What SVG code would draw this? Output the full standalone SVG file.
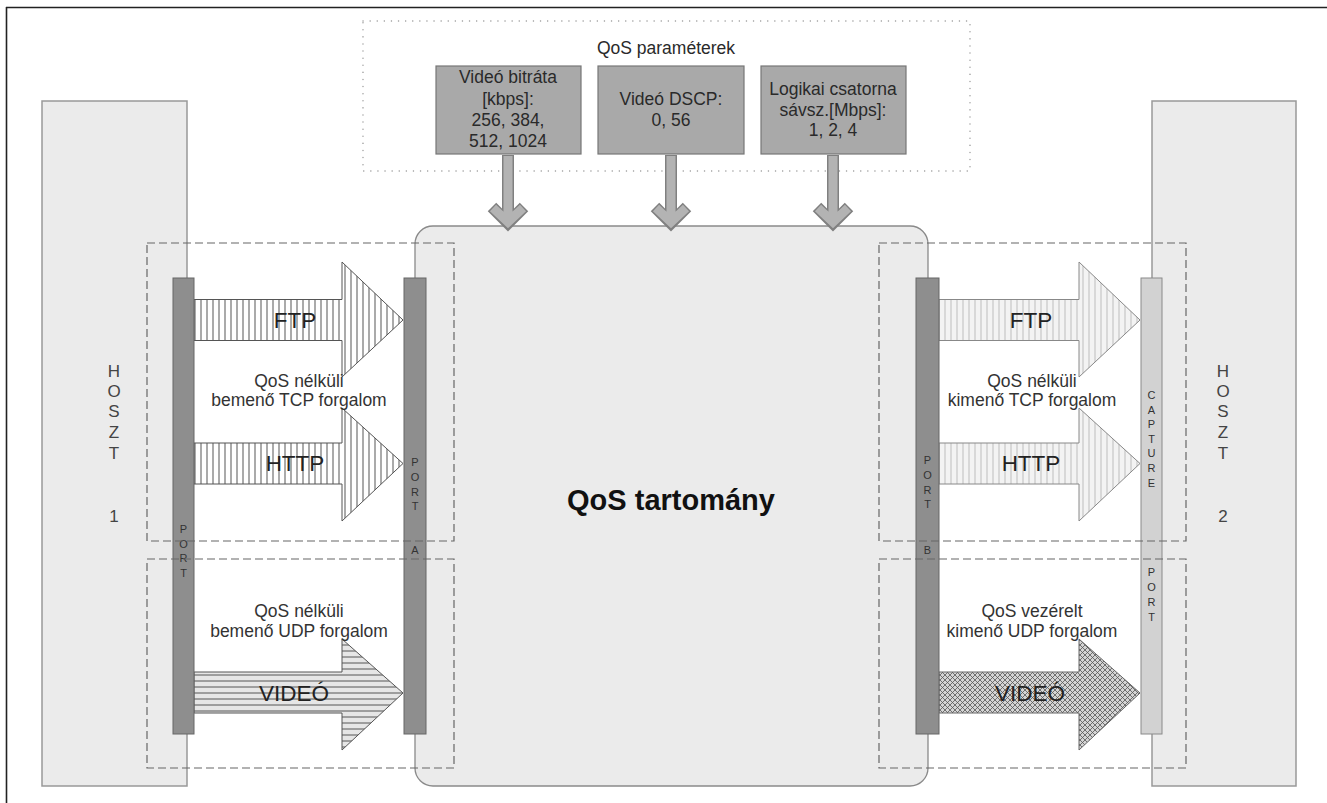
<svg xmlns="http://www.w3.org/2000/svg" width="1327" height="803" viewBox="0 0 1327 803">
<style>
text{font-family:"Liberation Sans",Arial,sans-serif;fill:#333}
.host{fill:#ebebeb;stroke:#999;stroke-width:1.5}
.dom{fill:#ebebeb;stroke:#8a8a8a;stroke-width:1.3}
.dash{fill:none;stroke:#666;stroke-width:1.2;stroke-dasharray:8 4}
.dot{fill:none;stroke:#999;stroke-width:1.4;stroke-dasharray:0.1 7;stroke-linecap:round}
.pbox{fill:#a9a9a9;stroke:#777;stroke-width:1.2}
.port{fill:#8e8e8e;stroke:#666;stroke-width:1}
.cap{fill:#d2d2d2;stroke:#8a8a8a;stroke-width:1}
.bt{font-size:17.5px;text-anchor:middle;fill:#2a2a2a}
.lbl{font-size:17.5px;text-anchor:middle;fill:#333}
.big{font-size:22.5px;text-anchor:middle;fill:#222}
.pl{font-size:11px;text-anchor:middle;fill:#333}
.hl{font-size:17px;text-anchor:middle;fill:#444}
.arrL{stroke:#555;stroke-width:1}
.arrR{stroke:#888;stroke-width:1}
.cout{fill:none;stroke:#808080;stroke-width:12;stroke-linejoin:miter}
.cin{fill:none;stroke:#b3b3b3;stroke-width:9;stroke-linejoin:miter}
</style>
<defs>
<pattern id="vs" width="6" height="10" patternUnits="userSpaceOnUse"><rect width="6" height="10" fill="#fff"/><line x1="3" y1="0" x2="3" y2="10" stroke="#555" stroke-width="1"/></pattern>
<pattern id="hs" width="10" height="6" patternUnits="userSpaceOnUse"><rect width="10" height="6" fill="#e6e6e6"/><line x1="0" y1="3" x2="10" y2="3" stroke="#555" stroke-width="1"/></pattern>
<pattern id="vl" width="6" height="10" patternUnits="userSpaceOnUse"><rect width="6" height="10" fill="#f3f3f3"/><line x1="3" y1="0" x2="3" y2="10" stroke="#bdbdbd" stroke-width="1"/></pattern>
<pattern id="xh" width="5" height="5" patternUnits="userSpaceOnUse"><rect width="5" height="5" fill="#d4d4d4"/><path d="M0,0 L5,5 M5,0 L0,5" stroke="#555" stroke-width="0.8"/></pattern>
</defs>
<rect width="1327" height="803" fill="#fff"/>
<g id="frame"><line x1="6" y1="7.5" x2="1327" y2="7.5" stroke="#222" stroke-width="1.6"/><line x1="6.5" y1="7" x2="6.5" y2="803" stroke="#222" stroke-width="1.6"/></g>

<g id="host1"><rect class="host" x="42" y="101" width="145" height="685"/>
<text class="hl" x="114" y="377">H</text><text class="hl" x="114" y="397">O</text><text class="hl" x="114" y="417">S</text><text class="hl" x="114" y="438">Z</text><text class="hl" x="114" y="459">T</text><text class="hl" x="114" y="522">1</text></g>
<g id="host2"><rect class="host" x="1152" y="101" width="144" height="685"/>
<text class="hl" x="1223" y="377">H</text><text class="hl" x="1223" y="397">O</text><text class="hl" x="1223" y="417">S</text><text class="hl" x="1223" y="438">Z</text><text class="hl" x="1223" y="459">T</text><text class="hl" x="1223" y="522">2</text></g>

<g id="qos-domain"><rect class="dom" x="415" y="226" width="513" height="560" rx="18"/>
<text x="671" y="510" style="font-size:29px;font-weight:bold;text-anchor:middle;fill:#111">QoS tartomány</text></g>

<g id="qos-params"><rect class="dot" x="363" y="21" width="607" height="150"/>
<text class="bt" x="666" y="54">QoS paraméterek</text>
<g id="param-bitrate"><rect class="pbox" x="436" y="66" width="145" height="88"/>
<text class="bt" x="508" y="83">Videó bitráta</text><text class="bt" x="508" y="105">[kbps]:</text><text class="bt" x="508" y="126">256, 384,</text><text class="bt" x="508" y="147">512, 1024</text></g>
<g id="param-dscp"><rect class="pbox" x="598" y="66" width="146" height="88"/>
<text class="bt" x="671" y="105">Videó DSCP:</text><text class="bt" x="671" y="126">0, 56</text></g>
<g id="param-bw"><rect class="pbox" x="761" y="66" width="145" height="88"/>
<text class="bt" x="833" y="95">Logikai csatorna</text><text class="bt" x="833" y="116">sávsz.[Mbps]:</text><text class="bt" x="833" y="136">1, 2, 4</text></g>
</g>

<g id="connectors">
<path class="cout" d="M508,155 V222 M492,207 L508,223 L524,207"/>
<path class="cin" d="M508,156 V221 M493,208 L508,222 L523,208"/>
<path class="cout" d="M671,155 V222 M655,207 L671,223 L687,207"/>
<path class="cin" d="M671,156 V221 M656,208 L671,222 L686,208"/>
<path class="cout" d="M833,155 V222 M817,207 L833,223 L849,207"/>
<path class="cin" d="M833,156 V221 M818,208 L833,222 L848,208"/>
</g>

<g id="arrow-ftp-in"><polygon class="arrL" fill="url(#vs)" points="194,299.5 342,299.5 342,262 403,320 342,377 342,340.5 194,340.5"/><text class="big" x="295" y="328">FTP</text></g>
<g id="arrow-http-in"><polygon class="arrL" fill="url(#vs)" points="194,443 342,443 342,408 403,463.5 342,521 342,484 194,484"/><text class="big" x="295" y="471">HTTP</text></g>
<g id="arrow-video-in"><polygon class="arrL" fill="url(#hs)" points="194,672 342,672 342,639 403,693 342,750 342,713 194,713"/><text class="big" x="294" y="701">VIDEÓ</text></g>
<g id="arrow-ftp-out"><polygon class="arrR" fill="url(#vl)" points="939,299.5 1079,299.5 1079,262 1140,320 1079,377 1079,340.5 939,340.5"/><text class="big" x="1031" y="328">FTP</text></g>
<g id="arrow-http-out"><polygon class="arrR" fill="url(#vl)" points="939,443 1079,443 1079,408 1140,463.5 1079,521 1079,484 939,484"/><text class="big" x="1031" y="471">HTTP</text></g>
<g id="arrow-video-out"><polygon stroke="#666" stroke-width="1" fill="url(#xh)" points="939,672 1079,672 1079,639 1140,693 1079,750 1079,713 939,713"/><text class="big" x="1030" y="701">VIDEÓ</text></g>

<g id="label-tcp-in"><text class="lbl" x="299" y="387">QoS nélküli</text><text class="lbl" x="299" y="406">bemenő TCP forgalom</text></g>
<g id="label-udp-in"><text class="lbl" x="299" y="617">QoS nélküli</text><text class="lbl" x="299" y="637">bemenő UDP forgalom</text></g>
<g id="label-tcp-out"><text class="lbl" x="1032" y="387">QoS nélküli</text><text class="lbl" x="1032" y="406">kimenő TCP forgalom</text></g>
<g id="label-udp-out"><text class="lbl" x="1032" y="617">QoS vezérelt</text><text class="lbl" x="1032" y="637">kimenő UDP forgalom</text></g>

<g id="port-host1"><rect class="port" x="173" y="278" width="21" height="456"/>
<text class="pl" x="183.5" y="533">P</text><text class="pl" x="183.5" y="547.5">O</text><text class="pl" x="183.5" y="562">R</text><text class="pl" x="183.5" y="576.5">T</text></g>
<g id="port-a"><rect class="port" x="404" y="278" width="22" height="456"/>
<text class="pl" x="415" y="466">P</text><text class="pl" x="415" y="481">O</text><text class="pl" x="415" y="496">R</text><text class="pl" x="415" y="510">T</text><text class="pl" x="415" y="554">A</text></g>
<g id="port-b"><rect class="port" x="916" y="278" width="23" height="456"/>
<text class="pl" x="927.5" y="464">P</text><text class="pl" x="927.5" y="479">O</text><text class="pl" x="927.5" y="494">R</text><text class="pl" x="927.5" y="508">T</text><text class="pl" x="927.5" y="554">B</text></g>
<g id="capture-port"><rect class="cap" x="1141" y="278" width="21" height="456"/>
<text class="pl" x="1151.5" y="399">C</text><text class="pl" x="1151.5" y="413.5">A</text><text class="pl" x="1151.5" y="428">P</text><text class="pl" x="1151.5" y="442.5">T</text><text class="pl" x="1151.5" y="457">U</text><text class="pl" x="1151.5" y="472">R</text><text class="pl" x="1151.5" y="487">E</text>
<text class="pl" x="1151.5" y="576">P</text><text class="pl" x="1151.5" y="591">O</text><text class="pl" x="1151.5" y="606">R</text><text class="pl" x="1151.5" y="621">T</text></g>

<g id="groups">
<rect class="dash" x="147" y="243" width="307" height="298"/>
<rect class="dash" x="147" y="559" width="307" height="209"/>
<rect class="dash" x="879" y="243" width="307" height="298"/>
<rect class="dash" x="879" y="559" width="307" height="209"/>
</g>
</svg>
